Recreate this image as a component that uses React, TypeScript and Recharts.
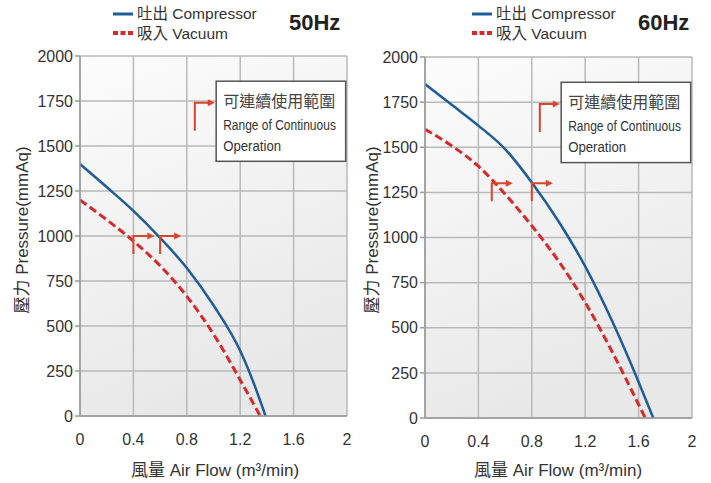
import React from 'react';
import {
  ComposedChart,
  Line,
  XAxis,
  YAxis,
  CartesianGrid,
  ReferenceArea,
  ReferenceDot,
} from 'recharts';

// ---------- data ----------
const xTicks = [0, 0.4, 0.8, 1.2, 1.6, 2];
const yTicks = [0, 250, 500, 750, 1000, 1250, 1500, 1750, 2000];

// 50 Hz
const flow50Compressor = [0, 0.2, 0.4, 0.6, 0.8, 1.0, 1.2, 1.3, 1.39];
const pressure50Compressor = [1400, 1272, 1140, 990, 822, 615, 362, 185, 0];
const flow50Vacuum = [0, 0.2, 0.4, 0.6, 0.8, 1.0, 1.2, 1.35];
const pressure50Vacuum = [1200, 1090, 972, 835, 665, 455, 200, 0];
const markerFlow50 = [0.4, 0.6];
const markerPressure50 = [1000, 1000];

// 60 Hz
const flow60Compressor = [0, 0.2, 0.4, 0.6, 0.8, 1.0, 1.2, 1.4, 1.6, 1.71];
const pressure60Compressor = [1850, 1735, 1620, 1490, 1305, 1090, 840, 540, 200, 0];
const flow60Vacuum = [0, 0.2, 0.4, 0.6, 0.8, 1.0, 1.2, 1.4, 1.6, 1.65];
const pressure60Vacuum = [1600, 1508, 1395, 1240, 1065, 870, 640, 370, 75, 0];
const markerFlow60 = [0.5, 0.8];
const markerPressure60 = [1300, 1300];

// annotation ("Range of Continuous Operation") box & its legend arrow
const boxFlow = [1.02, 1.99];
const boxPressure = [1415, 1860];
const boxArrowFlow = 0.86;
const boxArrowPressure = 1740;

const legendCompressor = '吐出 Compressor';
const legendVacuum = '吸入 Vacuum';
const boxTitle = '可連續使用範圍';
const boxLine1 = 'Range of Continuous';
const boxLine2 = 'Operation';
const xTitle = '風量  Air Flow (m³/min)';
const yTitle = '壓力  Pressure(mmAq)';

const zip = (xs: number[], ys: number[]) => xs.map((flow, i) => ({ flow, pressure: ys[i] }));

// ---------- styles ----------
const FONT = '"Liberation Sans", Arial, "Noto Sans CJK TC", sans-serif';
const CJK = '"Noto Sans CJK TC", "Noto Sans CJK SC", sans-serif';
const BLUE = '#1f5c9a';
const RED = '#d52a2a';
const ARROW = '#d8442c';
const GRID = '#b9b9b9';
const TEXT = '#333333';

const BracketArrow = ({ cx, cy, down, right }: any) => (
  <g>
    <path
      d={`M${cx},${cy + down} V${cy} H${cx + right - 6}`}
      stroke={ARROW}
      strokeWidth={2}
      fill="none"
    />
    <path
      d={`M${cx + right},${cy} L${cx + right - 7},${cy - 3.5} L${cx + right - 7},${cy + 3.5} Z`}
      fill={ARROW}
    />
  </g>
);

const AnnoBox = (p: any) => {
  const { x, y, width, height } = p;
  return (
    <g>
      <rect x={x} y={y} width={width} height={height} fill="#ffffff" stroke="#555" strokeWidth={1.5} />
      <text x={x + 7} y={y + 26} fontFamily={CJK} fontSize={16} fill="#444">
        {boxTitle}
      </text>
      <text
        x={0}
        y={0}
        transform={`translate(${x + 7},${y + 49}) scale(0.8,1)`}
        fontFamily={FONT}
        fontSize={15}
        fill={TEXT}
      >
        {boxLine1}
      </text>
      <text
        x={0}
        y={0}
        transform={`translate(${x + 7},${y + 70}) scale(0.88,1)`}
        fontFamily={FONT}
        fontSize={15}
        fill={TEXT}
      >
        {boxLine2}
      </text>
    </g>
  );
};

type ChartProps = {
  id: string;
  left: number;
  width: number;
  yAxisWidth: number;
  margin: { top: number; right: number; left: number; bottom: number };
  compressor: { flow: number; pressure: number }[];
  vacuum: { flow: number; pressure: number }[];
  markers: { flow: number; pressure: number }[];
};

const PerfChart = ({ id, left, width, yAxisWidth, margin, compressor, vacuum, markers }: ChartProps) => (
  <div style={{ position: 'absolute', left, top: 0 }}>
    <ComposedChart width={width} height={483} margin={margin}>
      <defs>
        <linearGradient id={`bg-${id}`} x1="0" y1="0" x2="0.3" y2="1">
          <stop offset="0%" stopColor="#fcfcfc" />
          <stop offset="100%" stopColor="#e8e8e8" />
        </linearGradient>
      </defs>
      <CartesianGrid stroke={GRID} strokeWidth={1.5} fill={`url(#bg-${id})`} fillOpacity={1} />
      <XAxis
        type="number"
        dataKey="flow"
        domain={[0, 2]}
        ticks={xTicks}
        allowDataOverflow
        height={30}
        axisLine={{ stroke: '#999', strokeWidth: 1.5 }}
        tickLine={false}
        tickSize={6}
        tickMargin={12}
        tick={{ fontSize: 16, fill: TEXT, fontFamily: FONT }}
      />
      <YAxis
        type="number"
        dataKey="pressure"
        domain={[0, 2000]}
        ticks={yTicks}
        width={yAxisWidth}
        axisLine={{ stroke: '#999', strokeWidth: 1.5 }}
        tickLine={{ stroke: '#999', strokeWidth: 1.5 }}
        tickSize={5}
        tickMargin={2}
        tick={{ fontSize: 16, fill: TEXT, fontFamily: FONT }}
      />
      <ReferenceArea
        x1={boxFlow[0]}
        x2={boxFlow[1]}
        y1={boxPressure[0]}
        y2={boxPressure[1]}
        shape={(p: any) => <AnnoBox {...p} />}
      />
      <ReferenceDot
        x={boxArrowFlow}
        y={boxArrowPressure}
        r={0}
        shape={(p: any) => <BracketArrow cx={p.cx} cy={p.cy} down={28} right={20} />}
      />
      <Line
        data={vacuum}
        dataKey="pressure"
        type="monotone"
        stroke={RED}
        strokeWidth={3}
        strokeDasharray="8 4"
        dot={false}
        isAnimationActive={false}
      />
      <Line
        data={compressor}
        dataKey="pressure"
        type="monotone"
        stroke={BLUE}
        strokeWidth={2.5}
        dot={false}
        isAnimationActive={false}
      />
      {markers.map((m, i) => (
        <ReferenceDot
          key={i}
          x={m.flow}
          y={m.pressure}
          r={0}
          shape={(p: any) => <BracketArrow cx={p.cx} cy={p.cy} down={18} right={21} />}
        />
      ))}
    </ComposedChart>
  </div>
);

const Overlay = () => {
  const legend = (x: number, hz: string, hzX: number) => (
    <g>
      <line x1={x} y1={14} x2={x + 20} y2={14} stroke={BLUE} strokeWidth={3} />
      <line x1={x} y1={33} x2={x + 20} y2={33} stroke={RED} strokeWidth={4} strokeDasharray="5 2.5" />
      <text x={x + 24} y={19} fontFamily={FONT} fontSize={15.5} fill={TEXT}>
        {legendCompressor}
      </text>
      <text x={x + 24} y={39} fontFamily={FONT} fontSize={15.5} fill={TEXT}>
        {legendVacuum}
      </text>
      <text x={hzX} y={30} fontFamily={FONT} fontSize={22} fontWeight="bold" fill="#222">
        {hz}
      </text>
    </g>
  );
  const yLabel = (cx: number) => (
    <text
      x={cx}
      y={230}
      transform={`rotate(-90 ${cx} 230)`}
      textAnchor="middle"
      dominantBaseline="central"
      fontFamily={FONT}
      fontSize={17}
      fill={TEXT}
    >
      {yTitle}
    </text>
  );
  const xLabel = (cx: number) => (
    <text x={cx} y={476} textAnchor="middle" fontFamily={FONT} fontSize={17} fill={TEXT}>
      {xTitle}
    </text>
  );
  return (
    <svg
      width={711}
      height={483}
      style={{ position: 'absolute', left: 0, top: 0, pointerEvents: 'none' }}
    >
      {legend(113, '50Hz', 289)}
      {legend(472, '60Hz', 638)}
      {yLabel(22)}
      {yLabel(372)}
      {xLabel(215)}
      {xLabel(558)}
    </svg>
  );
};

export default function App() {
  return (
    <div
      style={{
        position: 'absolute',
        left: 0,
        top: 0,
        width: 711,
        height: 483,
        background: '#ffffff',
        fontFamily: FONT,
        overflow: 'hidden',
      }}
    >
      <PerfChart
        id="50"
        left={0}
        width={355}
        yAxisWidth={80}
        margin={{ top: 56, right: 8, left: 0, bottom: 37 }}
        compressor={zip(flow50Compressor, pressure50Compressor)}
        vacuum={zip(flow50Vacuum, pressure50Vacuum)}
        markers={zip(markerFlow50, markerPressure50)}
      />
      <PerfChart
        id="60"
        left={355}
        width={356}
        yAxisWidth={70}
        margin={{ top: 57, right: 19, left: 0, bottom: 35 }}
        compressor={zip(flow60Compressor, pressure60Compressor)}
        vacuum={zip(flow60Vacuum, pressure60Vacuum)}
        markers={zip(markerFlow60, markerPressure60)}
      />
      <Overlay />
    </div>
  );
}
